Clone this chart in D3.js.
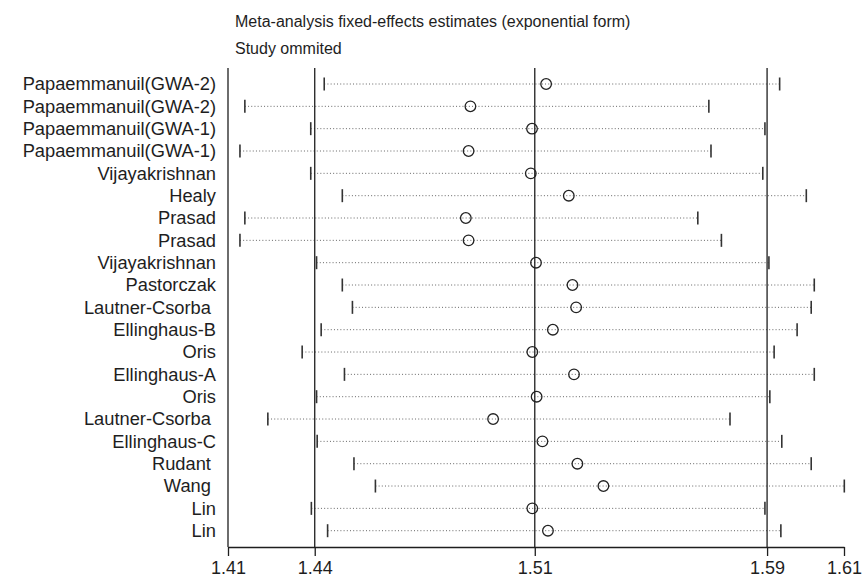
<!DOCTYPE html>
<html>
<head>
<meta charset="utf-8">
<script src="https://cdn.jsdelivr.net/npm/d3@7/dist/d3.min.js"></script>
<style>
  html, body { margin: 0; padding: 0; background: #fff; }
  svg { display: block; font-family: "Liberation Sans", Arial, sans-serif; }
  .label { white-space: pre; }
</style>
</head>
<body>
<svg id="chart" width="868" height="577"></svg>
<script>
// study omitted, one row each (trailing spaces kept as in the original labels)
const studies = [
  "Papaemmanuil(GWA-2)", "Papaemmanuil(GWA-2)", "Papaemmanuil(GWA-1)", "Papaemmanuil(GWA-1)",
  "Vijayakrishnan", "Healy", "Prasad", "Prasad", "Vijayakrishnan", "Pastorczak",
  "Lautner-Csorba ", "Ellinghaus-B", "Oris", "Ellinghaus-A", "Oris",
  "Lautner-Csorba ", "Ellinghaus-C", "Rudant ", "Wang ", "Lin", "Lin"
];

// estimates and 95% CI bounds after omitting each study
const estimate = [
  1.5158, 1.4911, 1.5112, 1.4905, 1.5108, 1.5232, 1.4896, 1.4905, 1.5125, 1.5244,
  1.5256, 1.5180, 1.5113, 1.5249, 1.5127, 1.4985, 1.5146, 1.5260, 1.5345, 1.5113, 1.5164
];
const lower = [
  1.4434, 1.4175, 1.4390, 1.4159, 1.4390, 1.4493, 1.4175, 1.4159, 1.4409, 1.4493,
  1.4526, 1.4424, 1.4362, 1.4500, 1.4409, 1.4250, 1.4411, 1.4531, 1.4601, 1.4392, 1.4445
];
const upper = [
  1.5920, 1.5689, 1.5872, 1.5696, 1.5865, 1.6007, 1.5653, 1.5730, 1.5885, 1.6033,
  1.6023, 1.5977, 1.5902, 1.6033, 1.5888, 1.5758, 1.5927, 1.6023, 1.6131, 1.5872, 1.5924
];

// overall fixed-effects estimate and CI (reference lines)
const overall = [1.4403, 1.5121, 1.5879];
const axisMin = 1.412, axisMax = 1.613;
const tickValues = [axisMin, overall[0], overall[1], overall[2], axisMax];

const svg = d3.select("#chart");
const margin = { top: 68, left: 228, right: 24, bottom: 30 };
const width = 868 - margin.left - margin.right;   // 616
const plotBottom = 547;

const x = d3.scaleLinear().domain([axisMin, axisMax]).range([margin.left, margin.left + width]);
const y = d3.scalePoint().domain(d3.range(studies.length)).range([84, 530.7]);

const ink = "#1e1e1e";

// title
svg.append("text")
  .attr("x", 235).attr("y", 27)
  .style("font-size", "16px").style("fill", ink)
  .text("Meta-analysis fixed-effects estimates (exponential form)");
svg.append("text")
  .attr("x", 235).attr("y", 54)
  .style("font-size", "16px").style("fill", ink)
  .text("Study ommited");

// left border
svg.append("line")
  .attr("x1", margin.left).attr("x2", margin.left)
  .attr("y1", margin.top).attr("y2", plotBottom)
  .style("stroke", ink).style("stroke-width", 1.3);

// dotted CI lines
const rows = svg.append("g").selectAll("g")
  .data(d3.range(studies.length))
  .enter()
  .append("g");

rows.append("line")
  .attr("x1", i => x(lower[i])).attr("x2", i => x(upper[i]))
  .attr("y1", i => y(i)).attr("y2", i => y(i))
  .style("stroke", "#666").style("stroke-width", 1)
  .style("stroke-dasharray", "1,2.2");

// reference lines for the overall estimate
svg.append("g").selectAll("line")
  .data(overall)
  .enter()
  .append("line")
  .attr("x1", d => x(d)).attr("x2", d => x(d))
  .attr("y1", margin.top).attr("y2", plotBottom)
  .style("stroke", ink).style("stroke-width", 1.3);

// CI end marks
[lower, upper].forEach(arr => {
  rows.append("line")
    .attr("x1", i => x(arr[i])).attr("x2", i => x(arr[i]))
    .attr("y1", i => y(i) - 6.5).attr("y2", i => y(i) + 6.5)
    .style("stroke", "#333").style("stroke-width", 1.6);
});

// estimate circles
rows.append("circle")
  .attr("cx", i => x(estimate[i]))
  .attr("cy", i => y(i))
  .attr("r", 5.3)
  .style("fill", "none")
  .style("stroke", "#222").style("stroke-width", 1.3);

// study labels
svg.append("g").selectAll("text")
  .data(d3.range(studies.length))
  .enter()
  .append("text")
  .attr("class", "label")
  .attr("x", 216)
  .attr("y", i => y(i))
  .attr("dy", "0.35em")
  .attr("text-anchor", "end")
  .style("font-size", "18.3px").style("fill", ink)
  .text(i => studies[i]);

// x axis
const xAxis = d3.axisBottom(x)
  .tickValues(tickValues)
  .tickSizeInner(9)
  .tickSizeOuter(0)
  .tickPadding(5)
  .tickFormat(d3.format(".2f"));

const xAxisG = svg.append("g")
  .attr("transform", `translate(0,${plotBottom})`)
  .call(xAxis);
xAxisG.select(".domain").style("stroke", ink).style("stroke-width", 1.3);
xAxisG.selectAll(".tick line").style("stroke", ink).style("stroke-width", 1.3);
xAxisG.selectAll(".tick text")
  .style("font-size", "18px")
  .style("font-family", "'Liberation Sans', Arial, sans-serif")
  .style("fill", ink);
</script>
</body>
</html>
